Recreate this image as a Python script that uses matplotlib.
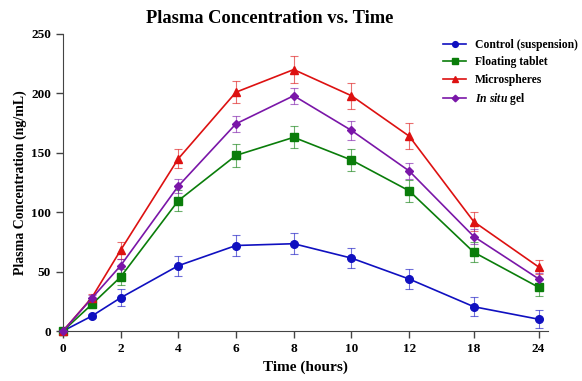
import numpy as np
import matplotlib
matplotlib.use("Agg")
import matplotlib.pyplot as plt

plt.rcParams['font.family'] = ['Liberation Serif', 'DejaVu Serif']
plt.rcParams['font.weight'] = 'bold'
plt.rcParams['mathtext.fontset'] = 'custom'
plt.rcParams['mathtext.it'] = 'Liberation Serif:italic:bold'
plt.rcParams['mathtext.rm'] = 'Liberation Serif:bold'

# Datos
tiempo = [0, 1, 2, 4, 6, 8, 10, 12, 18, 24]
control = [0, 12.6, 28, 55, 72, 73.5, 61.4, 43.8, 20.5, 10]
control_err = [0, 2, 7, 8.4, 8.7, 8.7, 8.6, 8.2, 7.8, 7.7]
flotante = [0, 22.4, 45.5, 109.7, 147.8, 163, 143.9, 118, 66.3, 36.9]
flotante_err = [0, 3, 7, 9, 9.5, 9.3, 9.2, 9, 8.3, 7.2]
microesferas = [0, 28, 68, 145, 201, 220, 198, 164, 92, 54]
microesferas_err = [0, 3, 7, 8, 9, 11, 11, 11, 8, 6]
gel = [0, 27.5, 55, 122, 174.4, 198, 168.8, 134.7, 79.5, 44]
gel_err = [0, 3, 6, 5.8, 6.6, 6.9, 7.7, 7, 6.5, 5]

ticks_x = [0, 2, 4, 6, 8, 10, 12, 18, 24]
ticks_y = [0, 50, 100, 150, 200, 250]

series = [
    ("Control (suspension)", control, control_err, "#1010c0", "o", 5.5),
    ("Floating tablet", flotante, flotante_err, "#0a7d0a", "s", 5.5),
    ("Microspheres", microesferas, microesferas_err, "#dd1111", "^", 6),
    (r"$\it{In\ situ}$ gel", gel, gel_err, "#7a16a8", "D", 4.5),
]

K = 0.3736  # compresion del tramo despues de 12 h


def adelante(x):
    x = np.asarray(x, dtype=float)
    return np.where(x <= 12, x, 12 + (x - 12) * K)


def atras(y):
    y = np.asarray(y, dtype=float)
    return np.where(y <= 12, y, 12 + (y - 12) / K)


fig = plt.figure(figsize=(5.82, 3.81), dpi=100)
ax = fig.add_axes([0.108, 0.131, 0.834, 0.78])
ax.set_xscale('function', functions=(adelante, atras))

for nombre, valores, err, color, marcador, ms in series:
    ax.errorbar(tiempo, valores, yerr=err, fmt='none', ecolor=color,
                elinewidth=0.8, capsize=3, capthick=0.8, alpha=0.6, zorder=2)
    ax.plot(tiempo, valores, color=color, marker=marcador, markersize=ms,
            linewidth=1.2, label=nombre, zorder=3, clip_on=False)

ax.set_xlim(0, 24.9)
ax.set_ylim(0, 250)
ax.set_xticks(ticks_x)
ax.set_xticklabels([str(t) for t in ticks_x])
ax.set_yticks(ticks_y)
ax.xaxis.set_minor_locator(matplotlib.ticker.NullLocator())
ax.spines['top'].set_visible(False)
ax.spines['right'].set_visible(False)
ax.spines['left'].set_color('#444444')
ax.spines['bottom'].set_color('#444444')
ax.tick_params(direction='out', length=5, width=1, colors='#444444',
               labelcolor='black', labelsize=9.5)

ax.set_title("Plasma Concentration vs. Time", fontsize=13.3, fontweight='bold',
             pad=7.5, x=0.427)
ax.set_xlabel("Time (hours)", fontsize=11, fontweight='bold', labelpad=4)
ax.set_ylabel("Plasma Concentration (ng/mL)", fontsize=10, fontweight='bold', labelpad=3)

leg = ax.legend(loc='upper right', bbox_to_anchor=(1.065, 0.99), frameon=False,
                fontsize=8.4, markerscale=0.75, handlelength=2.0, handletextpad=0.7,
                labelspacing=0.45, borderaxespad=0, borderpad=0.2)

fig.savefig("out.png", dpi=100)
